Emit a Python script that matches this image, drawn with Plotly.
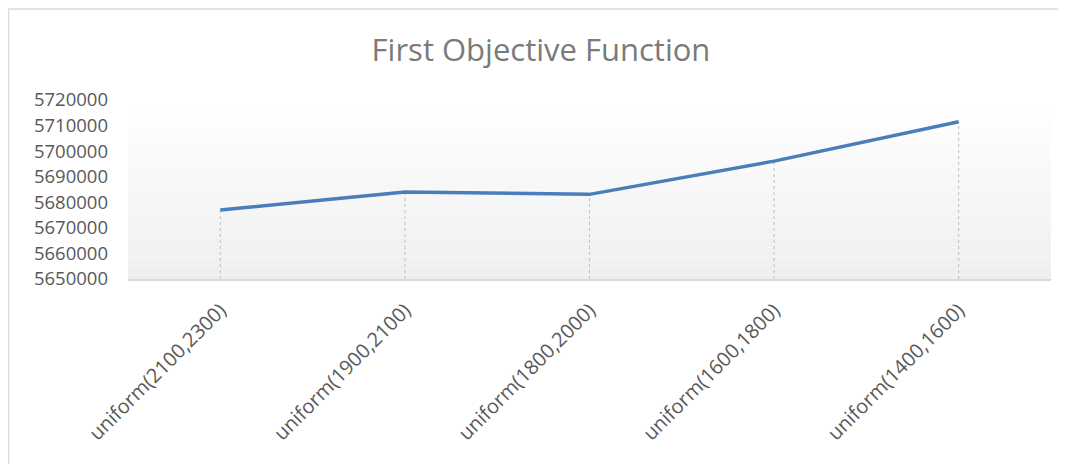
import plotly.graph_objects as go

categories = ["uniform(2100,2300)", "uniform(1900,2100)", "uniform(1800,2000)",
              "uniform(1600,1800)", "uniform(1400,1600)"]
values = [5677000, 5684000, 5683100, 5696100, 5711500]
y_ticks = [5650000, 5660000, 5670000, 5680000, 5690000, 5700000, 5710000, 5720000]

# page has 8px body margin: figure coordinates = page coordinates - 8
W, H = 1058, 456
ML, MR, MT, MB = 120, 15, 92, 185
pw, ph = W - ML - MR, H - MT - MB

shapes = []
n = 40
for i in range(n):
    t = i / (n - 1)
    c = int(round(255 - (255 - 239) * t))
    shapes.append(dict(type="rect", xref="x domain", yref="y domain",
                       x0=0, x1=1, y0=1 - (i + 1) / n, y1=1 - i / n,
                       fillcolor=f"rgb({c},{c},{c})", line=dict(width=0), layer="below"))

for cat, v in zip(categories, values):
    shapes.append(dict(type="line", xref="x", yref="y", x0=cat, x1=cat,
                       y0=y_ticks[0], y1=v, line=dict(color="#bfbfbf", width=1, dash="dot"),
                       layer="below"))


def px2x(px):
    return (px - ML) / pw


def py2y(py):
    return (H - MB - py) / ph


shapes.append(dict(type="rect", xref="paper", yref="paper",
                   x0=px2x(0.5), x1=px2x(1054), y0=py2y(470), y1=py2y(1),
                   line=dict(color="#d9d9d9", width=1.5), fillcolor="rgba(0,0,0,0)"))

fig = go.Figure()
fig.add_trace(go.Scatter(x=categories, y=values, mode="lines",
                         line=dict(color="#4a7ebb", width=3.5), showlegend=False,
                         hoverinfo="x+y"))

fig.update_layout(
    width=W, height=H,
    margin=dict(l=ML, r=MR, t=MT, b=MB, autoexpand=False),
    paper_bgcolor="white", plot_bgcolor="white",
    shapes=shapes,
    title=dict(text="First Objective Function", x=533 / W, xanchor="center",
               y=1 - 42 / H, yanchor="middle",
               font=dict(family="Open Sans", size=31, color="#7a7a7a")),
    xaxis=dict(type="category", range=[-0.5, 4.5], showgrid=False, zeroline=False,
               showline=True, linecolor="#d9d9d9", linewidth=1.5,
               tickangle=-45, ticks="", ticklabelstandoff=10,
               tickfont=dict(family="Open Sans", size=20, color="#595959")),
    yaxis=dict(range=[y_ticks[0], y_ticks[-1]], tickvals=y_ticks, ticktext=[str(v) for v in y_ticks],
               showgrid=False, zeroline=False, showline=False, ticks="", ticklabelstandoff=19,
               tickfont=dict(family="Open Sans", size=18.5, color="#595959")),
)

fig.write_html("out.html")
